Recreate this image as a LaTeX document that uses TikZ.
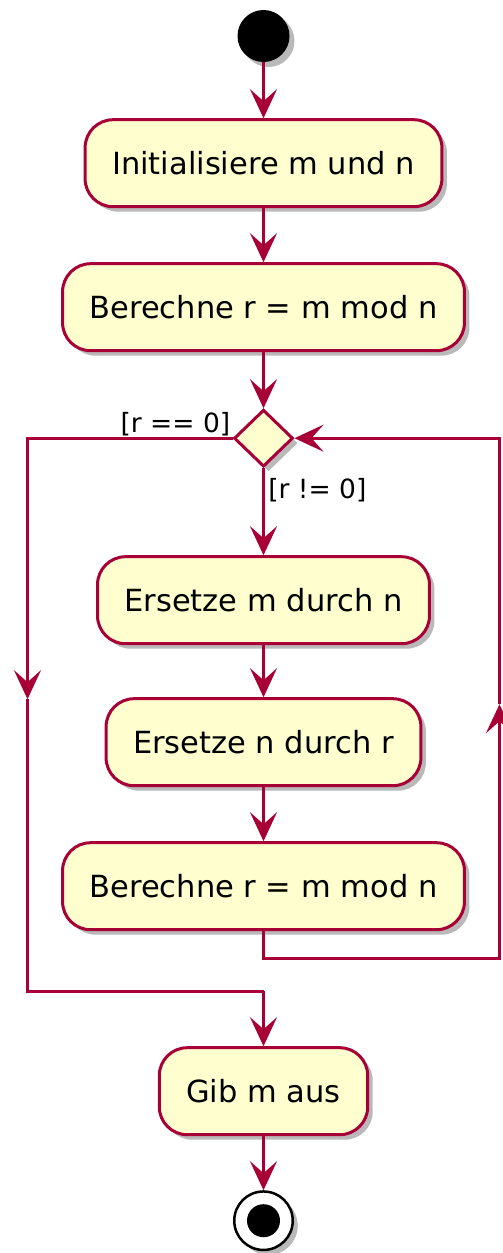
\documentclass[tikz,border=0pt]{standalone}
\usepackage{fontspec}
\setmainfont{DejaVu Sans}
\usetikzlibrary{arrows.meta,positioning,shapes.geometric,shadows}
\definecolor{umlred}{HTML}{A80036}
\definecolor{umlfill}{HTML}{FEFECE}

\begin{document}
\begin{tikzpicture}[
    x=1pt, y=1pt,
    node distance=54pt,
    shade/.style={drop shadow={shadow xshift=5pt, shadow yshift=-5pt,
                fill=black!55, opacity=0.5}},
    box/.style={draw=umlred, line width=3pt, rounded corners=28pt, fill=umlfill,
                minimum height=87pt, inner xsep=27pt, shade,
                font=\fontsize{30.5}{36}\selectfont},
    decision/.style={draw=umlred, line width=3pt, diamond, fill=umlfill,
                minimum width=59pt, minimum height=57pt, inner sep=0pt, shade},
    guard/.style={font=\fontsize{26.5}{32}\selectfont},
    line/.style={draw=umlred, line width=3pt},
    arrow/.style={line, -{Stealth[length=29pt, width=27pt, inset=12pt]}}
]
\useasboundingbox (0,0) rectangle (503,-1253);

\node[circle, fill=black, minimum size=52pt, inner sep=0pt, shade] (start) at (263.5,-36) {};
\node[box, below=56pt of start] (init) {Initialisiere m und n};
\node[box, below=of init] (calc) {Berechne r = m mod n};
\node[decision, below=56pt of calc] (test) {};
\node[box, below=87pt of test] (swapm) {Ersetze m durch n};
\node[box, below=52pt of swapm] (swapn) {Ersetze n durch r};
\node[box, below=54pt of swapn] (recalc) {Berechne r = m mod n};
\node[box, below=115pt of recalc] (out) {Gib m aus};
\node[circle, draw=black, line width=2.5pt, fill=white, minimum size=58.5pt,
      inner sep=0pt, shade, below=54pt of out] (stop) {};
\node[circle, fill=black, minimum size=33pt, inner sep=0pt] (stopdot) at (stop) {};

\draw[arrow] (start) -- (init);
\draw[arrow] (init) -- (calc);
\draw[arrow] (calc) -- (test);
\draw[arrow] (test) -- node[guard, pos=0.25, right] (ne) {[r != 0]} (swapm);
\draw[arrow] (swapm) -- (swapn);
\draw[arrow] (swapn) -- (recalc);

% exit branch on the left
\coordinate (ltop) at ([xshift=-205pt]test.west);
\coordinate (larr) at ([yshift=-2pt]ltop |- swapn.north);
\coordinate (join) at ([yshift=55pt]out.north);
\coordinate (lbot) at (ltop |- join);
\draw[arrow] (test.west) -- (ltop) -- (larr);
\draw[line] (larr) -- (lbot) -- (join);
\draw[arrow] (join) -- (out);
\node[guard, above left, inner sep=2pt] (eq) at (test.west) {[r == 0]};

% loop back on the right
\coordinate (rbot) at ([yshift=-27pt]recalc.south);
\coordinate (rcorner) at ([xshift=236pt]rbot);
\coordinate (rarr) at ([yshift=-7pt]rcorner |- swapn.north);
\coordinate (rtop) at (rcorner |- test.east);
\draw[arrow] (recalc.south) -- (rbot) -- (rcorner) -- (rarr);
\draw[arrow] (rarr) -- (rtop) -- (test.east);

\draw[arrow] (out) -- (stop);

\end{tikzpicture}
\end{document}
